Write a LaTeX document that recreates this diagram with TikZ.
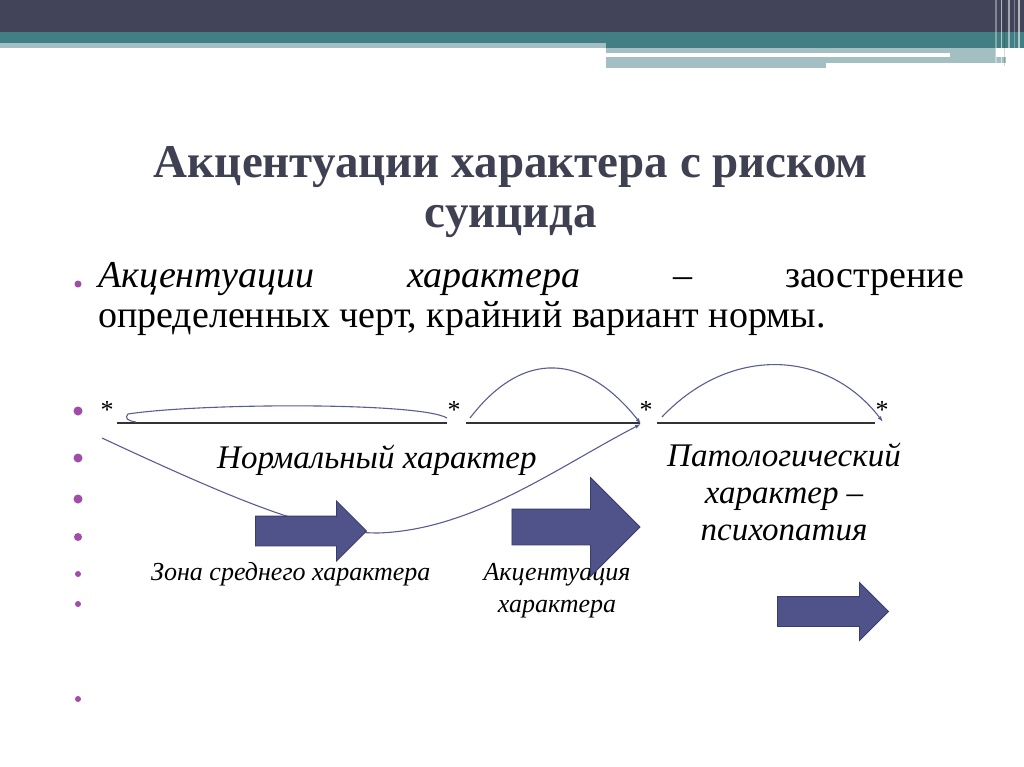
\documentclass[tikz,border=0pt]{standalone}
\usepackage{fontspec}
\setmainfont{Liberation Serif}
\usetikzlibrary{arrows.meta,calc,shapes.arrows}
\definecolor{bar}{HTML}{42455A}
\definecolor{tealbar}{HTML}{427F84}
\definecolor{lightbar}{HTML}{A4BFC2}
\definecolor{titleink}{HTML}{3F4152}
\definecolor{dot}{HTML}{A14DA8}
\definecolor{curve}{HTML}{5A5C92}
\definecolor{blockfill}{HTML}{50528A}
\definecolor{blockline}{HTML}{3A3C6C}

\begin{document}
\begin{tikzpicture}[x=1pt,y=-1pt,>={Latex[length=6pt,width=4pt]},
  star/.style={inner sep=0pt,anchor=base,font=\fontsize{26}{26}\selectfont},
  rule/.style={line width=1.6pt,black!80},
  link/.style={draw=curve,line width=1.1pt},
  block/.style={single arrow,draw=blockline,fill=blockfill,line width=0.8pt,inner xsep=0pt},
  label/.style={inner sep=0pt,anchor=base,font=\fontsize{33}{37}\selectfont\itshape},
  small/.style={inner sep=0pt,anchor=base,font=\fontsize{26}{32}\selectfont\itshape}]
\useasboundingbox (0,0) rectangle (1024,767);
\fill[white] (0,0) rectangle (1024,767);
% header bands
\fill[bar] (0,0) rectangle (1024,32);
\fill[tealbar] (0,32) rectangle (1024,43);
\fill[tealbar] (606,43) rectangle (1024,48);
\fill[lightbar] (0,43) rectangle (606,48);
\fill[lightbar] (606,48) rectangle (996,53);
\fill[lightbar] (950,53) rectangle (996,57);
\fill[lightbar] (606,57) rectangle (826,68);
\fill[lightbar] (826,57) rectangle (1006,63);
\draw[white,opacity=.35,line width=1.5pt] (996,0) -- (996,66);
\draw[white,opacity=.6,line width=1pt] (1001,0) -- (1001,66);
\draw[black,opacity=.15,line width=1pt] (1004,0) -- (1004,66);
\draw[white,opacity=.5,line width=2pt] (1009,0) -- (1009,66);
\draw[white,opacity=.3,line width=1pt] (1014,0) -- (1014,66);
\draw[white,opacity=.6,line width=1.5pt] (1019,0) -- (1019,66);

% title and definition
\node[font=\fontsize{47}{50}\selectfont\bfseries,text=titleink,align=center,inner sep=0pt,anchor=north] (title) at (511,146) {Акцентуации характера с риском\\суицида};
\node[anchor=north west,text width=866pt,align=justify,inner sep=0pt,font=\fontsize{38}{40}\selectfont] (def) at (98,262) {\textit{Акцентуации} \textit{характера} – заострение\linebreak определенных черт, крайний вариант нормы.};

% bullets
\fill[dot] (78,284) circle (3.5) (78,411) circle (4.5) (78,458) circle (4.5) (78,499) circle (4.5)
  (78,537) circle (4) (78,574) circle (3) (78,604) circle (3) (78,699) circle (3);

% scale of stars
\node[star] (s1) at (107,418) {*};
\node[star] (s2) at (454,418) {*};
\node[star] (s3) at (646,418) {*};
\node[star] (s4) at (882,418) {*};
\draw[rule] ($(s1.base)+(10,5)$) -- ($(s2.base)+(-7,5)$);
\draw[rule] ($(s2.base)+(12,5)$) -- ($(s3.base)+(-6,5)$);
\draw[rule] ($(s3.base)+(11,5)$) -- ($(s4.base)+(-7,5)$);

% labels
\node[label,anchor=base west] (normal) at (217,468) {Нормальный характер};
\node[label,align=center] (patho) at (784,540) {Патологический\\характер –\\психопатия};
\node[small,anchor=base west] (zone) at (151,580) {Зона среднего характера};
\node[small,align=center] (accent) at (557,612) {Акцентуация\\характера};

% curves
\draw[link] ($(s2.base)+(-7,0)$) .. controls +(-27,-16) and +(72,-11) .. ($(s1.base)+(21,-4)$)
  .. controls +(-4,4) and +(-8,-1) .. ($(s1.base)+(29,4)$);
\draw[link,->] ($(s1.base)+(-5,20)$) .. controls +(150,70) and +(-60,0) .. (378,533)
  .. controls +(95,-3) and +(-85,44) .. ($(s3.base)+(-5,6)$);
\draw[link,->] ($(s2.base)+(16,0)$) .. controls +(60,-78) and +(-48,-61) .. ($(s3.base)+(-5,6)$);
\draw[link,->] ($(s3.base)+(16,-1)$) .. controls +(68,-72) and +(-56,-73) .. ($(s4.base)+(1,4)$);

% block arrows
\node[block,inner ysep=14.5pt,single arrow head extend=15pt,minimum height=111pt] (a1) at (303.5,531) {};
\node[block,inner ysep=17.5pt,single arrow head extend=31.5pt,minimum height=128pt] (a2) at (567,527) {};
\node[block,inner ysep=14.5pt,single arrow head extend=14pt,minimum height=111pt] (a3) at (825.5,611.5) {};
\end{tikzpicture}
\end{document}
